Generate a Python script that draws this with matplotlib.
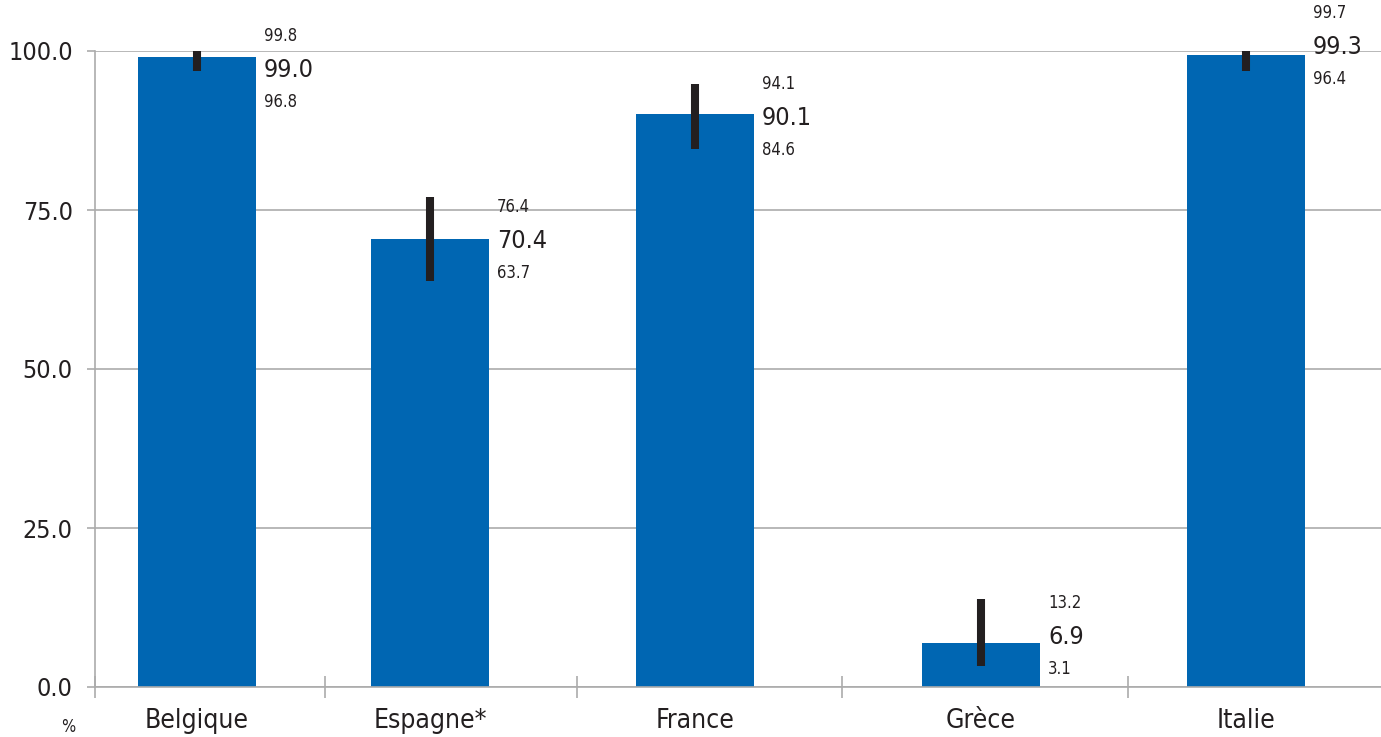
import matplotlib
matplotlib.use("Agg")
import matplotlib.pyplot as plt
from matplotlib import font_manager

pays = ["Belgique", "Espagne*", "France", "Grèce", "Italie"]
valeurs = [99.0, 70.4, 90.1, 6.9, 99.3]
hauts = [99.8, 76.4, 94.1, 13.2, 99.7]
bas = [96.8, 63.7, 84.6, 3.1, 96.4]
# bornes dessinées (les traits ne collent pas tout à fait aux étiquettes)
trait_haut = [100.5, 77.0, 94.8, 13.8, 100.5]
trait_bas = [96.8, 63.8, 84.6, 3.3, 96.8]
yticks = [0, 25, 50, 75, 100]

# mise en page (unités de l'axe x = pixels depuis l'axe y)
pos = [102, 335, 600, 886, 1151]
separateurs = [0, 230, 482, 747, 1033]
decal_mid = [-13, -2, -4, 6, 8]

condense = [f.name for f in font_manager.fontManager.ttflist
            if "Condensed" in f.fname or "Narrow" in f.fname]
if condense:
    plt.rcParams["font.family"] = [condense[0], "DejaVu Sans"]
    plt.rcParams["font.stretch"] = "condensed"
else:
    plt.rcParams["font.family"] = ["DejaVu Sans"]
texte = "#231f20"
gris = "#ababab"
bleu = "#0066b2"

fig = plt.figure(figsize=(13.81, 7.37), dpi=100)
ax = fig.add_axes([95 / 1381, 50 / 737, 1 - 95 / 1381, (687 - 51) / 737])

ax.bar(pos, valeurs, width=118, color=bleu, zorder=2)
ax.vlines(pos, trait_bas, trait_haut, color=texte, linewidth=5.8, zorder=3)

for x, v, h, b, d in zip(pos, valeurs, hauts, bas, decal_mid):
    xt = x + 59 + 8
    ax.annotate(f"{v:.1f}", (xt, v), xytext=(0, d * 0.72), textcoords="offset points",
                ha="left", va="center", fontsize=18, color=texte, annotation_clip=False)
    ax.annotate(f"{h:.1f}", (xt, v), xytext=(0, (d + 34) * 0.72), textcoords="offset points",
                ha="left", va="center", fontsize=12, color=texte, annotation_clip=False)
    ax.annotate(f"{b:.1f}", (xt, v), xytext=(0, (d - 32) * 0.72), textcoords="offset points",
                ha="left", va="center", fontsize=12, color=texte, annotation_clip=False)

ax.set_xlim(0, 1286)
ax.set_ylim(0, 100)
ax.set_yticks(yticks)
ax.set_yticklabels([f"{t:.1f}" for t in yticks], fontsize=18, color=texte)
ax.yaxis.grid(True, color=gris, linewidth=1.2, zorder=1)
ax.tick_params(axis="y", length=6, width=1.2, color=gris, pad=10)

ax.set_xticks(separateurs)
ax.set_xticklabels([])
ax.tick_params(axis="x", direction="inout", length=16, width=1.2, color=gris)
ax.set_xticks(pos, minor=True)
ax.set_xticklabels(pays, minor=True, fontsize=19, color=texte)
ax.tick_params(axis="x", which="minor", length=0, pad=15)

for s in ["top", "right"]:
    ax.spines[s].set_visible(False)
for s in ["left", "bottom"]:
    ax.spines[s].set_color(gris)
    ax.spines[s].set_linewidth(1.2)

fig.text(68 / 1381, 1 - 727 / 737, "%", fontsize=12, color=texte, ha="center", va="center")

fig.savefig("out.png", dpi=100)
